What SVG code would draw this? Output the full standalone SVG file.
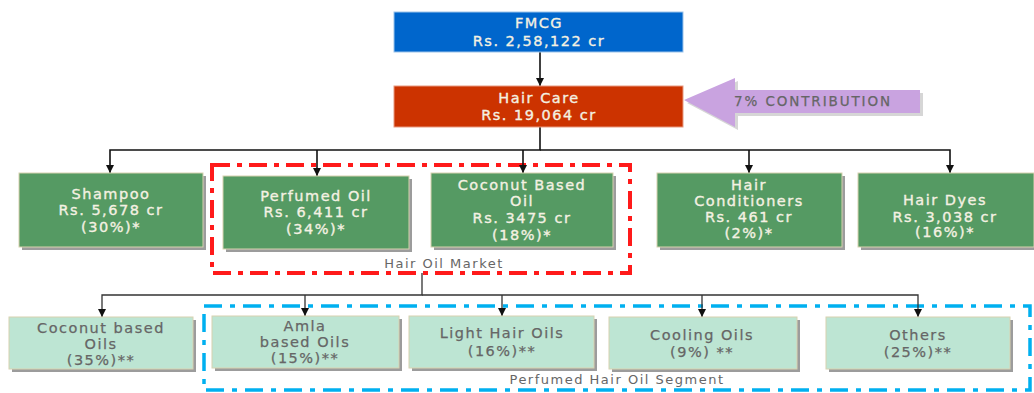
<svg xmlns="http://www.w3.org/2000/svg" width="1034" height="393" viewBox="0 0 1034 393">
<style>
text{font-family:"DejaVu Sans","Verdana",sans-serif;text-anchor:middle}
.lt{font-size:14.5px;fill:#F4F1E2;stroke:#F4F1E2;stroke-width:0.35;letter-spacing:1.5px}
.dk{font-size:14.5px;fill:#666666;stroke:#666666;stroke-width:0.25;letter-spacing:1.5px}
.lbl{font-size:13px;fill:#666666;letter-spacing:1.5px}
.g{fill:#559A63;stroke:#D8D2B0;stroke-width:1}
.m{fill:#BDE5D3;stroke:#D8D2B0;stroke-width:1}
.sh{fill:#9C9C9C}
.c{fill:none;stroke:#111;stroke-width:1.6}
.c2{fill:none;stroke:#333;stroke-width:1.3}
</style>
<defs>
<marker id="ah" viewBox="0 0 10 10" refX="10" refY="5" markerWidth="8" markerHeight="8" markerUnits="userSpaceOnUse" orient="auto"><path d="M0,0 L10,5 L0,10 z" fill="#111"/></marker>
</defs>
<rect width="1034" height="393" fill="#fff"/>

<!-- group boxes -->
<rect id="hair-oil-market" x="212" y="165" width="418" height="108" fill="none" stroke="#FF1A1A" stroke-width="4" stroke-dasharray="18 7 5 7"/>
<text class="lbl" x="444" y="268">Hair Oil Market</text>
<rect id="perfumed-segment" x="204" y="306" width="826" height="84" fill="none" stroke="#00B0F0" stroke-width="3.5" stroke-dasharray="18 8 5 8"/>
<text class="lbl" x="617" y="384">Perfumed Hair Oil Segment</text>

<g id="connectors">
<path class="c" d="M540,52 V86" marker-end="url(#ah)"/>
<path class="c" d="M540,127 V150 H110 V173" marker-end="url(#ah)"/>
<path class="c" d="M540,150 H950 V173" marker-end="url(#ah)"/>
<path class="c" d="M317,150 V176" marker-end="url(#ah)"/>
<path class="c" d="M523,150 V173" marker-end="url(#ah)"/>
<path class="c" d="M749,150 V173" marker-end="url(#ah)"/>
<path class="c2" d="M422,273 V295 H102 V317" marker-end="url(#ah)"/>
<path class="c2" d="M422,295 H918 V317" marker-end="url(#ah)"/>
<path class="c2" d="M305,295 V316" marker-end="url(#ah)"/>
<path class="c2" d="M502,295 V316" marker-end="url(#ah)"/>
<path class="c2" d="M702,295 V317" marker-end="url(#ah)"/>
</g>

<g id="fmcg">
<rect x="394" y="12" width="289" height="40" fill="#0066CC" stroke="#9CC3EA" stroke-width="1"/>
<text class="lt" x="539" y="28">FMCG</text>
<text class="lt" x="539" y="46">Rs. 2,58,122 cr</text>
</g>

<g id="hair-care">
<rect x="394" y="86" width="289" height="41" fill="#CC3300" stroke="#E89A80" stroke-width="1"/>
<text class="lt" x="539" y="103">Hair Care</text>
<text class="lt" x="539" y="120">Rs. 19,064 cr</text>
</g>

<g id="contribution">
<path d="M687,103 L738,81 L738,93 L923,93 L923,116 L738,116 L738,130 Z" fill="#BBBBBB" opacity="0.6"/>
<path d="M684,100 L735,78 L735,90 L920,90 L920,113 L735,113 L735,127 Z" fill="#C9A3E0"/>
<text class="dk" x="813" y="106" style="font-size:13.5px;letter-spacing:1.9px">7% CONTRIBUTION</text>
</g>

<g id="shampoo">
<rect class="sh" x="22" y="176" width="184" height="74"/>
<rect class="g" x="19" y="173" width="184" height="74"/>
<text class="lt" x="111" y="199">Shampoo</text>
<text class="lt" x="111" y="215">Rs. 5,678 cr</text>
<text class="lt" x="111" y="232">(30%)*</text>
</g>

<g id="perfumed-oil">
<rect class="sh" x="226" y="179" width="186" height="73"/>
<rect class="g" x="223" y="176" width="186" height="73"/>
<text class="lt" x="316" y="201">Perfumed Oil</text>
<text class="lt" x="316" y="217">Rs. 6,411 cr</text>
<text class="lt" x="316" y="234">(34%)*</text>
</g>

<g id="coconut-based-oil">
<rect class="sh" x="434" y="176" width="182" height="74"/>
<rect class="g" x="431" y="173" width="182" height="74"/>
<text class="lt" x="522" y="190">Coconut Based</text>
<text class="lt" x="522" y="206">Oil</text>
<text class="lt" x="522" y="223">Rs. 3475 cr</text>
<text class="lt" x="522" y="240">(18%)*</text>
</g>

<g id="hair-conditioners">
<rect class="sh" x="660" y="176" width="185" height="74"/>
<rect class="g" x="657" y="173" width="185" height="74"/>
<text class="lt" x="749" y="190">Hair</text>
<text class="lt" x="749" y="206">Conditioners</text>
<text class="lt" x="749" y="222">Rs. 461 cr</text>
<text class="lt" x="749" y="238">(2%)*</text>
</g>

<g id="hair-dyes">
<rect class="sh" x="861" y="176" width="176" height="74"/>
<rect class="g" x="858" y="173" width="176" height="74"/>
<text class="lt" x="945" y="205">Hair Dyes</text>
<text class="lt" x="945" y="222">Rs. 3,038 cr</text>
<text class="lt" x="945" y="237">(16%)*</text>
</g>

<g id="coconut-based-oils">
<rect class="sh" x="12" y="320" width="184" height="52"/>
<rect class="m" x="9" y="317" width="184" height="52"/>
<text class="dk" x="101" y="333">Coconut based</text>
<text class="dk" x="101" y="349">Oils</text>
<text class="dk" x="101" y="365">(35%)**</text>
</g>

<g id="amla">
<rect class="sh" x="215" y="319" width="187" height="52"/>
<rect class="m" x="212" y="316" width="187" height="52"/>
<text class="dk" x="305" y="331">Amla</text>
<text class="dk" x="305" y="347">based Oils</text>
<text class="dk" x="305" y="363">(15%)**</text>
</g>

<g id="light-hair-oils">
<rect class="sh" x="412" y="319" width="185" height="52"/>
<rect class="m" x="409" y="316" width="185" height="52"/>
<text class="dk" x="502" y="338">Light Hair Oils</text>
<text class="dk" x="502" y="356">(16%)**</text>
</g>

<g id="cooling-oils">
<rect class="sh" x="612" y="320" width="188" height="52"/>
<rect class="m" x="609" y="317" width="188" height="52"/>
<text class="dk" x="702" y="340">Cooling Oils</text>
<text class="dk" x="702" y="357">(9%) **</text>
</g>

<g id="others">
<rect class="sh" x="829" y="320" width="184" height="52"/>
<rect class="m" x="826" y="317" width="184" height="52"/>
<text class="dk" x="918" y="340">Others</text>
<text class="dk" x="918" y="357">(25%)**</text>
</g>
</svg>
